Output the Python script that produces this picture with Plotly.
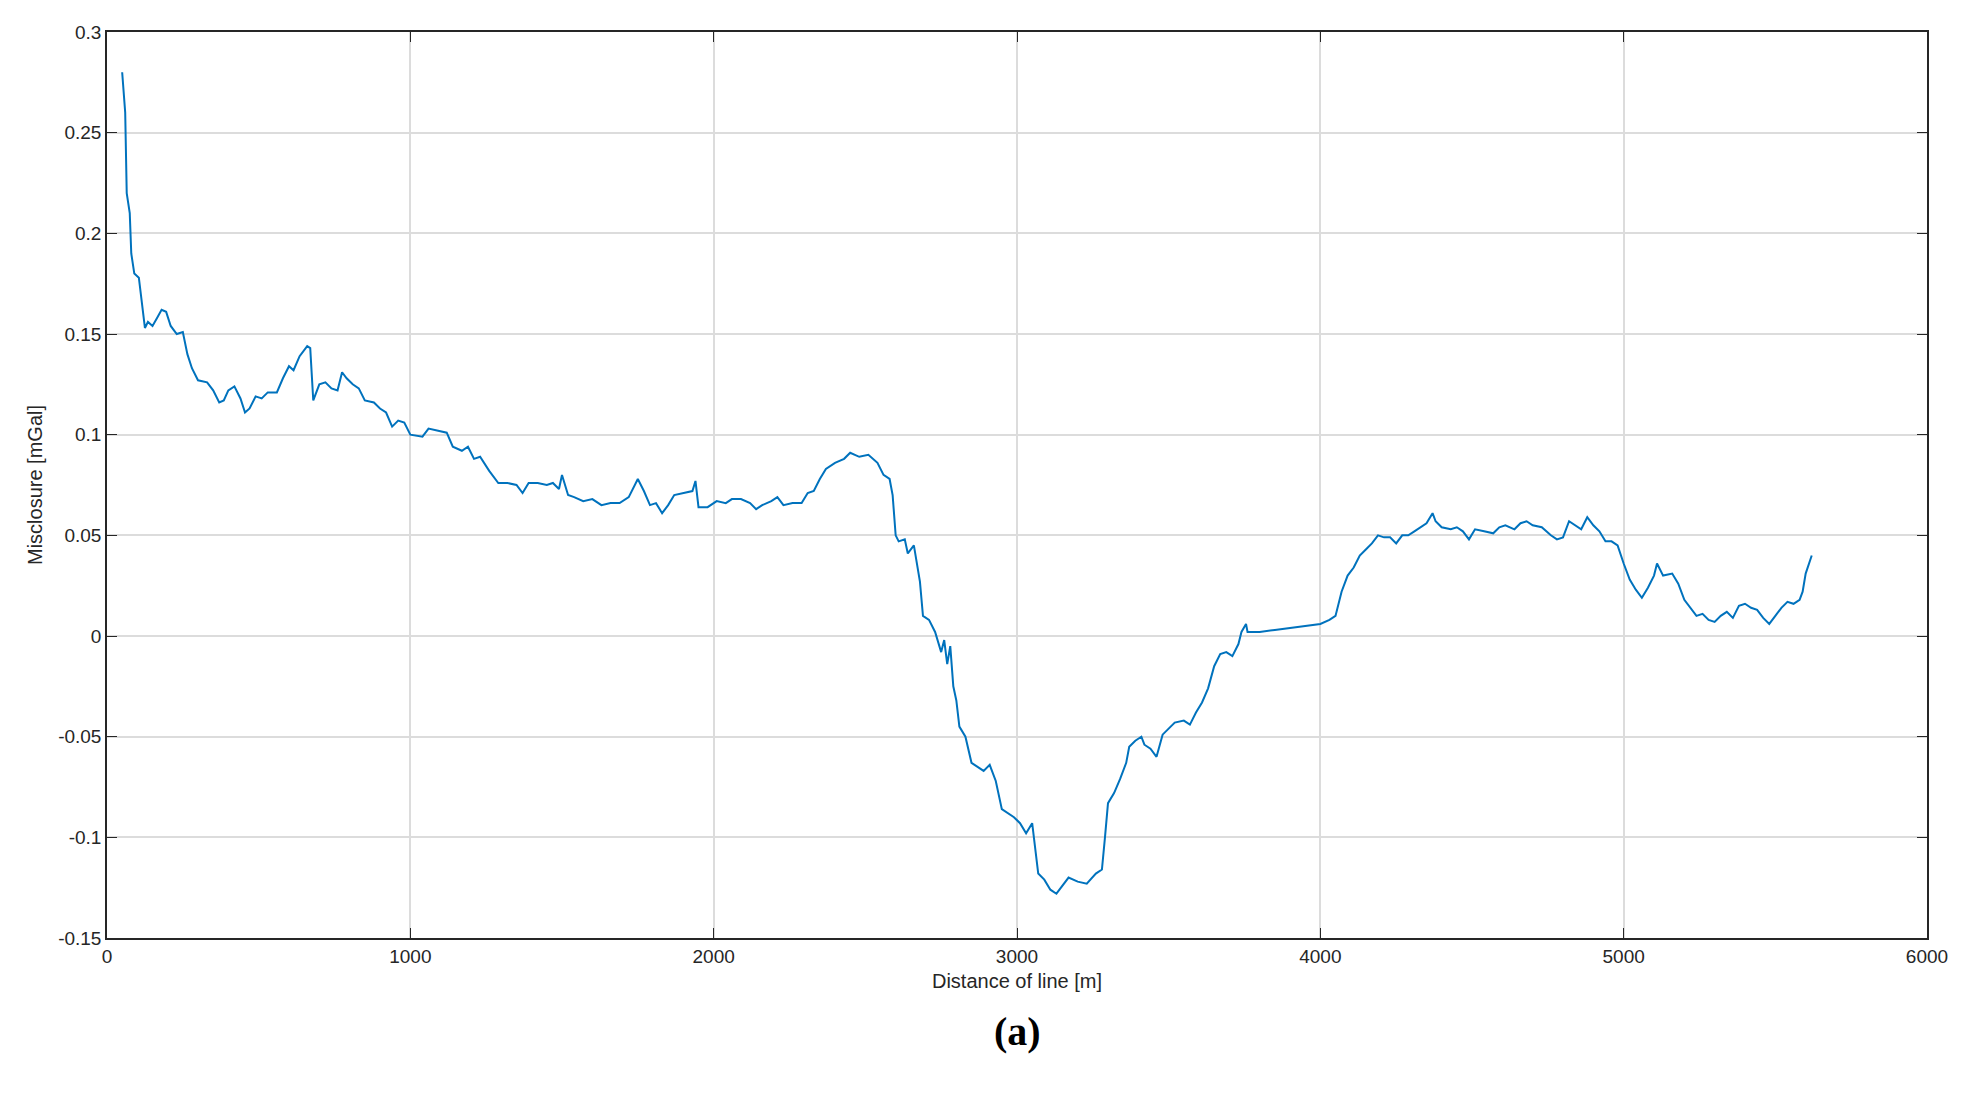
import plotly.graph_objects as go

dist = [50,60,65,75,80,90,105,115,125,135,150,165,180,195,210,230,250,265,280,300,330,350,370,385,400,420,440,455,470,490,510,530,560,580,600,615,635,660,670,680,700,720,740,760,775,790,810,830,850,880,900,920,940,960,980,1000,1040,1060,1090,1120,1140,1170,1190,1210,1230,1260,1290,1320,1350,1370,1390,1420,1450,1470,1490,1500,1520,1540,1570,1600,1630,1660,1690,1720,1750,1770,1790,1810,1830,1850,1870,1900,1930,1940,1950,1980,2010,2040,2060,2090,2120,2140,2160,2190,2210,2230,2260,2290,2310,2330,2350,2370,2400,2430,2450,2480,2510,2540,2560,2580,2590,2600,2610,2630,2640,2660,2670,2680,2690,2710,2730,2750,2760,2770,2780,2790,2800,2810,2830,2850,2870,2890,2910,2930,2950,2970,2990,3010,3030,3050,3060,3070,3090,3110,3130,3150,3170,3200,3230,3260,3280,3290,3300,3320,3340,3360,3370,3390,3410,3420,3440,3460,3480,3500,3520,3550,3570,3590,3610,3630,3650,3670,3690,3710,3730,3740,3755,3760,3800,3850,3900,3950,4000,4030,4050,4070,4090,4110,4130,4150,4170,4190,4210,4230,4250,4270,4290,4310,4330,4350,4370,4380,4400,4430,4450,4470,4490,4510,4540,4570,4590,4610,4640,4660,4680,4700,4730,4760,4780,4800,4820,4840,4860,4880,4900,4920,4940,4960,4980,5000,5020,5040,5060,5080,5100,5110,5130,5160,5180,5200,5220,5240,5260,5280,5300,5320,5340,5360,5380,5400,5420,5440,5460,5480,5500,5520,5540,5560,5580,5590,5600,5620]
misclosure = [0.28,0.26,0.22,0.21,0.19,0.18,0.178,0.165,0.153,0.156,0.154,0.158,0.162,0.161,0.154,0.150,0.151,0.140,0.133,0.127,0.126,0.122,0.116,0.117,0.122,0.124,0.118,0.111,0.113,0.119,0.118,0.121,0.121,0.128,0.134,0.132,0.139,0.144,0.143,0.117,0.125,0.126,0.123,0.122,0.131,0.128,0.125,0.123,0.117,0.116,0.113,0.111,0.104,0.107,0.106,0.100,0.099,0.103,0.102,0.101,0.094,0.092,0.094,0.088,0.089,0.082,0.076,0.076,0.075,0.071,0.076,0.076,0.075,0.076,0.073,0.080,0.070,0.069,0.067,0.068,0.065,0.066,0.066,0.069,0.078,0.072,0.065,0.066,0.061,0.065,0.070,0.071,0.072,0.077,0.064,0.064,0.067,0.066,0.068,0.068,0.066,0.063,0.065,0.067,0.069,0.065,0.066,0.066,0.071,0.072,0.078,0.083,0.086,0.088,0.091,0.089,0.090,0.086,0.080,0.078,0.070,0.050,0.047,0.048,0.041,0.045,0.036,0.027,0.010,0.008,0.002,-0.008,-0.002,-0.014,-0.005,-0.025,-0.032,-0.045,-0.050,-0.063,-0.065,-0.067,-0.064,-0.072,-0.086,-0.088,-0.090,-0.093,-0.098,-0.093,-0.105,-0.118,-0.121,-0.126,-0.128,-0.124,-0.120,-0.122,-0.123,-0.118,-0.116,-0.100,-0.083,-0.078,-0.071,-0.063,-0.055,-0.052,-0.050,-0.054,-0.056,-0.060,-0.049,-0.046,-0.043,-0.042,-0.044,-0.038,-0.033,-0.026,-0.015,-0.009,-0.008,-0.010,-0.004,0.002,0.006,0.002,0.002,0.003,0.004,0.005,0.006,0.008,0.010,0.022,0.030,0.034,0.040,0.043,0.046,0.050,0.049,0.049,0.046,0.050,0.050,0.052,0.054,0.056,0.061,0.057,0.054,0.053,0.054,0.052,0.048,0.053,0.052,0.051,0.054,0.055,0.053,0.056,0.057,0.055,0.054,0.050,0.048,0.049,0.057,0.055,0.053,0.059,0.055,0.052,0.047,0.047,0.045,0.036,0.028,0.023,0.019,0.024,0.030,0.036,0.030,0.031,0.026,0.018,0.014,0.010,0.011,0.008,0.007,0.010,0.012,0.009,0.015,0.016,0.014,0.013,0.009,0.006,0.010,0.014,0.017,0.016,0.018,0.022,0.031,0.040]

x_ticks = [0,1000,2000,3000,4000,5000,6000]
y_ticks = [0.3,0.25,0.2,0.15,0.1,0.05,0,-0.05,-0.1,-0.15]
y_labels = ["0.3","0.25","0.2","0.15","0.1","0.05","0","-0.05","-0.1","-0.15"]

fig = go.Figure(go.Scatter(x=dist, y=misclosure, mode="lines",
                           line=dict(color="#0072BD", width=2)))
axis_common = dict(showline=True, linecolor="#262626", linewidth=1.5, mirror="ticks",
                   ticks="inside", ticklen=10, tickcolor="#262626", showgrid=True,
                   gridcolor="#DCDCDC", gridwidth=1.5, zeroline=False,
                   tickfont=dict(family="Liberation Sans", size=19, color="#262626"))
fig.update_xaxes(range=[0,6000], tickvals=x_ticks,
                 title=dict(text="Distance of line [m]", font=dict(family="Liberation Sans", size=20, color="#262626"), standoff=8),
                 **axis_common)
fig.update_yaxes(range=[-0.15,0.3], tickvals=y_ticks, ticktext=y_labels,
                 title=dict(text="Misclosure [mGal]", font=dict(family="Liberation Sans", size=20, color="#262626"), standoff=10),
                 **axis_common)
fig.add_annotation(text="<b>(a)</b>", xref="paper", yref="paper", x=0.5, y=-0.13,
                   showarrow=False, font=dict(family="Liberation Serif", size=40, color="black"))
fig.update_layout(width=1966, height=1100, plot_bgcolor="white", paper_bgcolor="white",
                  showlegend=False, margin=dict(l=99, r=47, t=24, b=170))
fig.write_html("out.html")
